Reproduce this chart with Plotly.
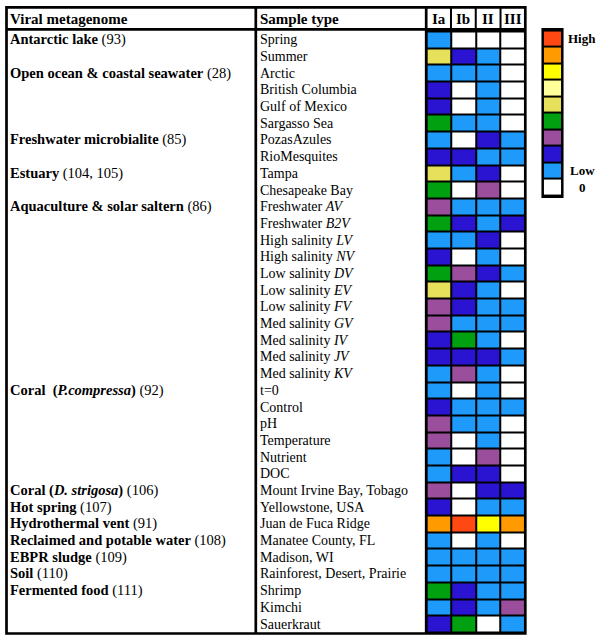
import plotly.graph_objects as go

# ---------------- data ----------------
clades = ["Ia", "Ib", "II", "III"]

sample_types = [
    "Spring", "Summer", "Arctic", "British Columbia", "Gulf of Mexico", "Sargasso Sea",
    "PozasAzules", "RioMesquites", "Tampa", "Chesapeake Bay",
    "Freshwater <i>AV</i>", "Freshwater <i>B2V</i>", "High salinity <i>LV</i>",
    "High salinity <i>NV</i>", "Low salinity <i>DV</i>", "Low salinity <i>EV</i>",
    "Low salinity <i>FV</i>", "Med salinity <i>GV</i>", "Med salinity <i>IV</i>",
    "Med salinity <i>JV</i>", "Med salinity <i>KV</i>",
    "t=0", "Control", "pH", "Temperature", "Nutrient", "DOC",
    "Mount Irvine Bay, Tobago", "Yellowstone, USA", "Juan de Fuca Ridge",
    "Manatee County, FL", "Madison, WI", "Rainforest, Desert, Prairie",
    "Shrimp", "Kimchi", "Sauerkraut",
]

# abundance level (0 = absent ... 9 = high) per clade
level_Ia = [1, 5, 1, 2, 2, 4, 1, 2, 5, 4, 3, 4, 1, 2, 4, 5, 3, 3, 2, 2, 1,
            1, 2, 3, 3, 1, 1, 3, 2, 8, 1, 1, 1, 4, 1, 2]
level_Ib = [0, 2, 1, 0, 0, 1, 0, 2, 1, 0, 1, 2, 1, 0, 3, 2, 2, 1, 4, 2, 3,
            0, 1, 1, 0, 0, 2, 0, 0, 9, 0, 1, 1, 2, 2, 4]
level_II = [0, 1, 1, 1, 1, 1, 2, 1, 2, 3, 1, 1, 2, 1, 2, 1, 1, 1, 1, 2, 1,
            1, 1, 1, 1, 3, 2, 2, 1, 7, 1, 1, 1, 1, 1, 0]
level_III = [0, 0, 0, 0, 0, 0, 1, 1, 0, 0, 1, 2, 0, 0, 1, 0, 1, 1, 0, 1, 0,
             0, 1, 0, 0, 0, 0, 2, 1, 8, 0, 1, 1, 1, 3, 1]

group_labels = [
    "<b>Antarctic lake</b> (93)",
    "<b>Open ocean &amp; coastal seawater</b> (28)",
    "<b>Freshwater microbialite</b> (85)",
    "<b>Estuary</b> (104, 105)",
    "<b>Aquaculture &amp; solar saltern</b> (86)",
    "<b>Coral  (<i>P.compressa</i>)</b> (92)",
    "<b>Coral (<i>D. strigosa</i>)</b> (106)",
    "<b>Hot spring</b> (107)",
    "<b>Hydrothermal vent</b> (91)",
    "<b>Reclaimed and potable water</b> (108)",
    "<b>EBPR sludge</b> (109)",
    "<b>Soil</b> (110)",
    "<b>Fermented food</b> (111)",
]
group_first_sample = [
    "Spring", "Arctic", "PozasAzules", "Tampa", "Freshwater <i>AV</i>", "t=0",
    "Mount Irvine Bay, Tobago", "Yellowstone, USA", "Juan de Fuca Ridge",
    "Manatee County, FL", "Madison, WI", "Rainforest, Desert, Prairie", "Shrimp",
]

legend_levels = [9, 8, 7, 6, 5, 4, 3, 2, 1, 0]
legend_texts = {9: "High", 1: "Low", 0: "0"}

level_colors = ["#FFFFFF", "#1E9BFA", "#2A14D2", "#9A4E9C", "#00A010",
                "#E6E05A", "#FFFF99", "#FFFF00", "#FF9A00", "#FF4812"]

# ---------------- helpers ----------------
W, H = 600, 642
FONT = "Liberation Serif, Times New Roman, serif"


def px(x):
    return x / W


def py(y):
    return 1 - y / H


n = len(level_colors)
colorscale = []
for i, c in enumerate(level_colors):
    colorscale.append([i / n, c])
    colorscale.append([(i + 1) / n, c])

z = [[a, b, c, d] for a, b, c, d in zip(level_Ia, level_Ib, level_II, level_III)]

fig = go.Figure()
fig.add_trace(go.Heatmap(
    z=z, x=clades, y=sample_types, colorscale=colorscale,
    zmin=-0.5, zmax=n - 0.5, showscale=False, xgap=2, ygap=2,
    xaxis="x", yaxis="y", hoverinfo="skip",
))
fig.add_trace(go.Heatmap(
    z=[[v] for v in legend_levels], x=["key"], y=legend_levels,
    colorscale=colorscale, zmin=-0.5, zmax=n - 0.5, showscale=False,
    xgap=0, ygap=2, xaxis="x2", yaxis="y2", hoverinfo="skip",
))

annotations = []
# header texts
annotations.append(dict(text="<b>Viral metagenome</b>", x=px(8), y=py(19), xref="paper", yref="paper",
                        xanchor="left", yanchor="middle", showarrow=False, font=dict(size=15)))
annotations.append(dict(text="<b>Sample type</b>", x=px(258), y=py(19), xref="paper", yref="paper",
                        xanchor="left", yanchor="middle", showarrow=False, font=dict(size=15)))
for c in clades:
    annotations.append(dict(text="<b>%s</b>" % c, x=c, y=py(19), xref="x", yref="paper",
                            xanchor="center", yanchor="middle", showarrow=False, font=dict(size=15)))
# sample type labels
for s in sample_types:
    annotations.append(dict(text=s, x=px(258), y=s, xref="paper", yref="y",
                            xanchor="left", yanchor="middle", showarrow=False, font=dict(size=14)))
# group labels
for g, s in zip(group_labels, group_first_sample):
    annotations.append(dict(text=g, x=px(8), y=s, xref="paper", yref="y",
                            xanchor="left", yanchor="middle", showarrow=False, font=dict(size=14.5)))
# legend labels
for lv, t in legend_texts.items():
    annotations.append(dict(text="<b>%s</b>" % t, x=px(582), y=lv, xref="paper", yref="y2",
                            xanchor="center", yanchor="middle", showarrow=False, font=dict(size=13)))

shapes = []
lw = 2.7
# outer border of table
shapes.append(dict(type="rect", xref="paper", yref="paper", x0=px(6.5), x1=px(525.3),
                   y0=py(7.3), y1=py(633.5), line=dict(color="black", width=lw)))
# header bottom line
shapes.append(dict(type="line", xref="paper", yref="paper", x0=px(6.5), x1=px(525.3),
                   y0=py(29.3), y1=py(29.3), line=dict(color="black", width=lw)))
# column separators
for xx in (255.8, 426.2):
    shapes.append(dict(type="line", xref="paper", yref="paper", x0=px(xx), x1=px(xx),
                       y0=py(7.3), y1=py(633.5), line=dict(color="black", width=lw)))
# header separators between clade columns
for k in range(len(clades) - 1):
    shapes.append(dict(type="line", xref="x", yref="paper", x0=k + 0.5, x1=k + 0.5,
                       y0=py(7.3), y1=py(29.3), line=dict(color="black", width=2)))
# legend border
shapes.append(dict(type="rect", xref="paper", yref="paper", x0=px(542.7), x1=px(562.3),
                   y0=py(29.3), y1=py(196.7), line=dict(color="black", width=2.5)))

fig.update_layout(
    width=W, height=H, margin=dict(l=0, r=0, t=0, b=0),
    paper_bgcolor="white", plot_bgcolor="black",
    font=dict(family=FONT, color="black"),
    xaxis=dict(domain=[px(426.2), px(525.3)], showticklabels=False, ticks="",
               showgrid=False, zeroline=False, fixedrange=True),
    yaxis=dict(domain=[py(633.5), py(29.3)], autorange="reversed", showticklabels=False,
               ticks="", showgrid=False, zeroline=False, fixedrange=True),
    xaxis2=dict(domain=[px(542.7), px(562.3)], anchor="y2", showticklabels=False, ticks="",
                showgrid=False, zeroline=False, fixedrange=True),
    yaxis2=dict(domain=[py(196.7), py(29.3)], anchor="x2", showticklabels=False, ticks="",
                showgrid=False, zeroline=False, fixedrange=True),
    annotations=annotations, shapes=shapes, showlegend=False,
)

fig.write_html("out.html", config={"displayModeBar": False},
               post_script="document.body.style.margin='0px';document.body.style.overflow='hidden';")
